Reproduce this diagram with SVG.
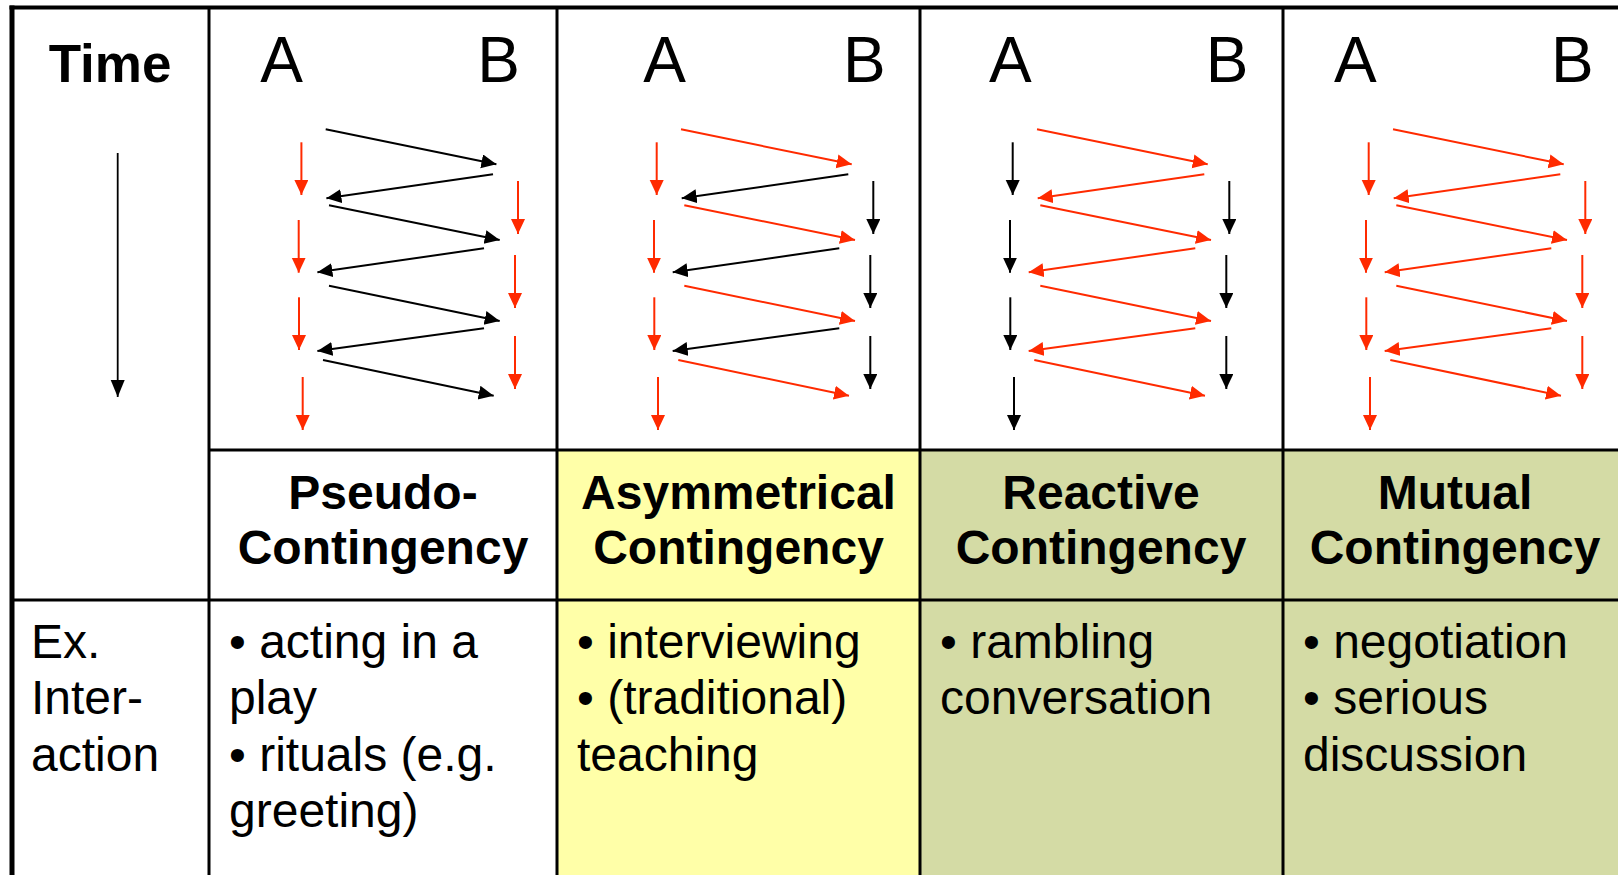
<svg xmlns="http://www.w3.org/2000/svg" width="1618" height="875" viewBox="0 0 1618 875">
<style>
  .bg{fill:#ffffff}
  .yel{fill:#FFFFA8}
  .grn{fill:#D4DBA5}
  .grid{stroke:#000;stroke-width:3;fill:none}
  .outer{stroke:#000;fill:none}
  .hd{font-family:"Liberation Sans",Arial,sans-serif;font-weight:bold;font-size:48px;text-anchor:middle;fill:#000}
  .ab{font-family:"Liberation Sans",Arial,sans-serif;font-size:64px;text-anchor:middle;fill:#000}
  .tx{font-family:"Liberation Sans",Arial,sans-serif;font-size:48px;fill:#000}
  .r{stroke:#FF2A00;stroke-width:2;fill:none;marker-end:url(#hr)}
  .k{stroke:#000;stroke-width:2;fill:none;marker-end:url(#hk)}
</style>
<defs>
  <marker id="hr" markerUnits="userSpaceOnUse" markerWidth="16" markerHeight="16" refX="15" refY="7" orient="auto">
    <path d="M0,0 L15,7 L0,14 z" fill="#FF2A00"/>
  </marker>
  <marker id="hk" markerUnits="userSpaceOnUse" markerWidth="16" markerHeight="16" refX="15" refY="7" orient="auto">
    <path d="M0,0 L15,7 L0,14 z" fill="#000"/>
  </marker>
  <marker id="ht" markerUnits="userSpaceOnUse" markerWidth="18" markerHeight="16" refX="17" refY="7" orient="auto">
    <path d="M0,0 L17,7 L0,14 z" fill="#000"/>
  </marker>
</defs>
<rect class="bg" x="0" y="0" width="1618" height="875"/>

<g id="fills">
  <rect class="yel" x="557" y="450" width="363" height="425"/>
  <rect class="grn" x="920" y="450" width="363" height="425"/>
  <rect class="grn" x="1283" y="450" width="335" height="425"/>
</g>

<g id="grid">
  <line class="grid" x1="209" y1="7" x2="209" y2="875"/>
  <line class="grid" x1="557" y1="7" x2="557" y2="875"/>
  <line class="grid" x1="920" y1="7" x2="920" y2="875"/>
  <line class="grid" x1="1283" y1="7" x2="1283" y2="875"/>
  <line class="grid" x1="209" y1="450" x2="1618" y2="450"/>
  <line class="grid" x1="12" y1="600" x2="1618" y2="600"/>
  <line class="outer" stroke-width="4" x1="9.5" y1="7.5" x2="1618" y2="7.5"/>
  <line class="outer" stroke-width="5" x1="12" y1="5.5" x2="12" y2="875"/>
</g>

<g id="time-cell">
  <text x="110" y="82" class="hd" style="font-size:53px">Time</text>
  <line x1="117.7" y1="153" x2="117.7" y2="397" stroke="#000" stroke-width="1.8" marker-end="url(#ht)"/>
</g>

<g id="ab-labels">
  <text class="ab" x="281.5" y="82">A</text><text class="ab" x="498.5" y="82">B</text>
  <text class="ab" x="664.7" y="82">A</text><text class="ab" x="864.3" y="82">B</text>
  <text class="ab" x="1010.3" y="82">A</text><text class="ab" x="1227" y="82">B</text>
  <text class="ab" x="1355.3" y="82">A</text><text class="ab" x="1572.3" y="82">B</text>
</g>

<g id="connectors">
  <g id="pseudo-arrows" transform="translate(325.7,0)">
    <path class="k" d="M0,129.3 L170.7,164.3"/>
    <path class="k" d="M3.3,205.3 L174,240"/>
    <path class="k" d="M3.3,285.7 L174,321"/>
    <path class="k" d="M-2.7,360 L168,395.7"/>
    <path class="k" d="M167.3,174.3 L0.7,198.3"/>
    <path class="k" d="M158.3,248.3 L-8.3,272.3"/>
    <path class="k" d="M158.3,328.3 L-8.3,351"/>
    <path class="r" d="M-24.3,142.3 V195"/>
    <path class="r" d="M-27,220 V272.7"/>
    <path class="r" d="M-26.7,297.3 V350"/>
    <path class="r" d="M-23,377 V430"/>
    <path class="r" d="M192.3,181 V234"/>
    <path class="r" d="M189.3,255 V308"/>
    <path class="r" d="M189.3,336 V389"/>
  </g>
  <g id="asym-arrows" transform="translate(681,0)">
    <path class="r" d="M0,129.3 L170.7,164.3"/>
    <path class="r" d="M3.3,205.3 L174,240"/>
    <path class="r" d="M3.3,285.7 L174,321"/>
    <path class="r" d="M-2.7,360 L168,395.7"/>
    <path class="k" d="M167.3,174.3 L0.7,198.3"/>
    <path class="k" d="M158.3,248.3 L-8.3,272.3"/>
    <path class="k" d="M158.3,328.3 L-8.3,351"/>
    <path class="r" d="M-24.3,142.3 V195"/>
    <path class="r" d="M-27,220 V272.7"/>
    <path class="r" d="M-26.7,297.3 V350"/>
    <path class="r" d="M-23,377 V430"/>
    <path class="k" d="M192.3,181 V234"/>
    <path class="k" d="M189.3,255 V308"/>
    <path class="k" d="M189.3,336 V389"/>
  </g>
  <g id="reactive-arrows" transform="translate(1037,0)">
    <path class="r" d="M0,129.3 L170.7,164.3"/>
    <path class="r" d="M3.3,205.3 L174,240"/>
    <path class="r" d="M3.3,285.7 L174,321"/>
    <path class="r" d="M-2.7,360 L168,395.7"/>
    <path class="r" d="M167.3,174.3 L0.7,198.3"/>
    <path class="r" d="M158.3,248.3 L-8.3,272.3"/>
    <path class="r" d="M158.3,328.3 L-8.3,351"/>
    <path class="k" d="M-24.3,142.3 V195"/>
    <path class="k" d="M-27,220 V272.7"/>
    <path class="k" d="M-26.7,297.3 V350"/>
    <path class="k" d="M-23,377 V430"/>
    <path class="k" d="M192.3,181 V234"/>
    <path class="k" d="M189.3,255 V308"/>
    <path class="k" d="M189.3,336 V389"/>
  </g>
  <g id="mutual-arrows" transform="translate(1393,0)">
    <path class="r" d="M0,129.3 L170.7,164.3"/>
    <path class="r" d="M3.3,205.3 L174,240"/>
    <path class="r" d="M3.3,285.7 L174,321"/>
    <path class="r" d="M-2.7,360 L168,395.7"/>
    <path class="r" d="M167.3,174.3 L0.7,198.3"/>
    <path class="r" d="M158.3,248.3 L-8.3,272.3"/>
    <path class="r" d="M158.3,328.3 L-8.3,351"/>
    <path class="r" d="M-24.3,142.3 V195"/>
    <path class="r" d="M-27,220 V272.7"/>
    <path class="r" d="M-26.7,297.3 V350"/>
    <path class="r" d="M-23,377 V430"/>
    <path class="r" d="M192.3,181 V234"/>
    <path class="r" d="M189.3,255 V308"/>
    <path class="r" d="M189.3,336 V389"/>
  </g>
</g>

<g id="pseudo-label">
  <text class="hd" x="383" y="508.5">Pseudo-</text>
  <text class="hd" x="383" y="564">Contingency</text>
</g>
<g id="asym-label">
  <text class="hd" x="738.5" y="508.5">Asymmetrical</text>
  <text class="hd" x="738.5" y="564">Contingency</text>
</g>
<g id="reactive-label">
  <text class="hd" x="1101" y="508.5">Reactive</text>
  <text class="hd" x="1101" y="564">Contingency</text>
</g>
<g id="mutual-label">
  <text class="hd" x="1455" y="508.5">Mutual</text>
  <text class="hd" x="1455" y="564">Contingency</text>
</g>

<g id="ex-label">
  <text class="tx" x="31" y="658">Ex.</text>
  <text class="tx" x="31" y="714">Inter-</text>
  <text class="tx" x="31" y="771">action</text>
</g>
<g id="pseudo-examples">
  <text class="tx" x="229" y="658">• acting in a</text>
  <text class="tx" x="229" y="714">play</text>
  <text class="tx" x="229" y="771">• rituals (e.g.</text>
  <text class="tx" x="229" y="827">greeting)</text>
</g>
<g id="asym-examples">
  <text class="tx" x="577" y="658">• interviewing</text>
  <text class="tx" x="577" y="714">• (traditional)</text>
  <text class="tx" x="577" y="771">teaching</text>
</g>
<g id="reactive-examples">
  <text class="tx" x="940" y="658">• rambling</text>
  <text class="tx" x="940" y="714">conversation</text>
</g>
<g id="mutual-examples">
  <text class="tx" x="1303" y="658">• negotiation</text>
  <text class="tx" x="1303" y="714">• serious</text>
  <text class="tx" x="1303" y="771">discussion</text>
</g>
</svg>
